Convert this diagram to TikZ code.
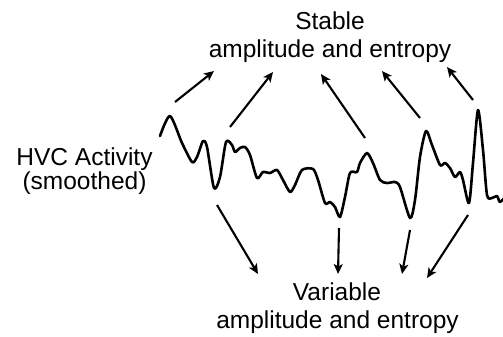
\documentclass[tikz,border=0pt]{standalone}
\usepackage{fontspec}
\setmainfont{Liberation Sans}
\usetikzlibrary{arrows.meta}
\begin{document}
\begin{tikzpicture}[x=1pt,y=-1pt,
  lbl/.style={align=center,inner sep=0pt,font=\fontsize{24.5}{28}\selectfont},
  arr/.style={line width=2.1pt,-{Stealth[length=10pt,width=9pt,inset=2.5pt]}},
  wave/.style={line width=2.6pt,line join=round,line cap=round}]
\useasboundingbox (0,0) rectangle (503,337);
% labels
\node[lbl,anchor=base] (st1) at (330,30) {Stable};
\node[lbl,anchor=base] (st2) at (330,58) {amplitude and entropy};
\node[lbl,anchor=base] (va1) at (337,300) {Variable};
\node[lbl,anchor=base] (va2) at (337.5,328) {amplitude and entropy};
\node[lbl,anchor=base] (hv1) at (84.5,165) {HVC Activity};
\node[lbl,anchor=base] (hv2) at (84.5,189) {(smoothed)};
% waveform
\draw[wave] plot[smooth,tension=0.45] coordinates {
 (160,136) (170,116) (182,143) (192,162) (197,157) (203,141) (207,147)
 (214,188) (220,177) (226,142) (232,145) (235,152) (240,148) (245,147)
 (250,155) (257,178) (263,172) (270,173) (277,170) (283,180) (290,192)
 (295,185) (302,170) (313,169) (318,180) (325,203) (330,202) (335,207)
 (340,217) (345,197) (350,173) (357,172) (360,163) (367,153) (373,163)
 (380,180) (387,183) (395,182) (400,187) (410,218) (415,200) (420,157)
 (426,131) (432,145) (440,165) (445,163) (450,168) (455,177) (460,172)
 (463,180) (469,203) (473,163) (478,110) (483,150) (487,195) (492,198)
 (497,196) (500,202) (506,196)};
% arrow end points
\coordinate (a1t) at (175,102); \coordinate (a1h) at (214,71);
\coordinate (a2t) at (230,127); \coordinate (a2h) at (273,72);
\coordinate (a3t) at (365,138); \coordinate (a3h) at (321,74);
\coordinate (a4t) at (420,118); \coordinate (a4h) at (382,71);
\coordinate (a5t) at (473,100); \coordinate (a5h) at (447,67);
\coordinate (b1t) at (217,205); \coordinate (b1h) at (258,274);
\coordinate (b2t) at (339,228); \coordinate (b2h) at (338,274);
\coordinate (b3t) at (410,230); \coordinate (b3h) at (402,274);
\coordinate (b4t) at (468,215); \coordinate (b4h) at (427,278);
\foreach \i in {a1,a2,a3,a4,a5,b1,b2,b3,b4}
  \draw[arr] (\i t) -- (\i h);
\end{tikzpicture}
\end{document}
